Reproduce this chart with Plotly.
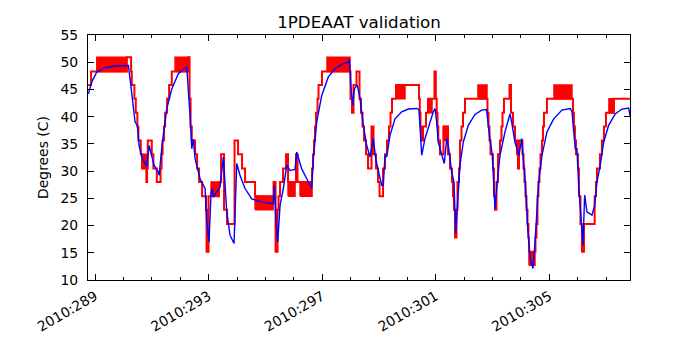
import plotly.graph_objects as go

# ---- Data (day of year 2010, degrees C) ----
model_day = [288.764, 288.884, 289.060, 289.352, 289.704, 290.173, 290.257, 290.349, 290.408, 290.489,
             290.549, 290.644, 290.820, 290.901, 290.996, 291.077, 291.229, 291.254, 291.370, 291.525,
             291.701, 291.933, 292.169, 292.229, 292.345, 292.405, 292.461, 292.521, 292.697, 292.873,
             292.933, 293.014, 293.085, 293.130, 293.165, 293.401, 293.518, 293.637, 293.754, 293.894,
             293.989, 294.106, 294.282, 294.518, 294.870, 295.278, 295.313, 295.373, 295.433, 295.514,
             295.630, 295.750, 295.866, 296.042, 296.102, 296.278, 296.454, 296.630, 296.687, 296.806,
             296.982, 297.215, 297.451, 297.687, 297.919, 297.954, 298.004, 298.074, 298.130, 298.236,
             298.331, 298.447, 298.567, 298.683, 298.799, 298.884, 299.000, 299.095, 299.151, 299.211,
             299.271, 299.387, 299.563, 299.799, 300.032, 300.338, 300.408, 300.504, 300.620, 300.796,
             300.912, 300.972, 301.032, 301.088, 301.208, 301.299, 301.384, 301.440, 301.560, 301.641,
             301.701, 301.771, 301.852, 301.968, 302.144, 302.380, 302.616, 302.792, 302.873, 302.989,
             303.085, 303.144, 303.261, 303.437, 303.613, 303.673, 303.789, 303.930, 304.025, 304.151,
             304.246, 304.327, 304.423, 304.504, 304.623, 304.739, 304.915, 305.151, 305.444, 305.736,
             305.796, 305.912, 305.972, 306.032, 306.183, 306.243, 306.324, 306.500, 306.595, 306.676,
             306.792, 306.912, 307.088, 307.320, 307.556, 307.792, 307.849]
model_temp = [44.2, 46.4, 48.2, 49.0, 49.3, 49.4, 45.8, 41.5, 39.0, 38.4,
              34.7, 32.6, 30.75, 34.7, 32.9, 31.1, 29.8, 29.2, 35.3, 41.5,
              45.1, 47.9, 49.0, 49.1, 40.2, 34.1, 35.9, 32.3, 28.6, 26.8,
              20.7, 17.0, 26.2, 26.8, 25.2, 27.1, 32.6, 22.5, 18.2, 16.7,
              31.4, 29.2, 26.8, 24.9, 24.3, 24.0, 27.4, 20.7, 17.0, 23.7,
              26.8, 31.1, 30.1, 30.3, 33.5, 30.4, 28.6, 26.8, 32.3, 39.0,
              43.9, 47.3, 48.8, 49.6, 50.0, 50.6, 45.8, 42.1, 45.1, 45.8,
              43.3, 38.4, 34.7, 32.6, 36.0, 32.3, 29.5, 27.4, 27.4, 32.9,
              32.6, 36.6, 39.6, 40.9, 41.4, 41.5, 41.3, 32.9, 36.0, 39.0,
              40.9, 41.5, 39.0, 35.3, 32.9, 31.4, 36.0, 34.7, 29.8, 28.0,
              18.5, 23.7, 31.1, 35.3, 38.4, 40.4, 41.2, 41.3, 37.2, 32.9,
              23.1, 26.8, 32.9, 37.2, 40.5, 39.0, 35.3, 32.9, 36.0, 28.0,
              18.8, 13.9, 12.1, 17.6, 28.0, 32.9, 37.2, 39.6, 41.2, 41.5,
              40.9, 34.1, 34.1, 27.4, 16.4, 25.6, 22.5, 21.9, 23.7, 28.0,
              31.1, 35.3, 38.4, 40.5, 41.4, 41.6, 40.0]

telem_day = [288.754, 288.859, 290.116, 290.268, 290.292, 290.384, 290.433, 290.489, 290.525, 290.609,
             290.655, 290.806, 290.831, 290.856, 290.996, 291.053, 291.173, 291.306, 291.342, 291.377,
             291.430, 291.465, 291.535, 291.606, 291.701, 292.285, 292.327, 292.363, 292.405, 292.521,
             292.592, 292.662, 292.768, 292.908, 292.926, 292.996, 293.366, 293.437, 293.542, 293.648,
             293.912, 294.035, 294.176, 294.282, 294.634, 295.285, 295.356, 295.426, 295.461, 295.514,
             295.620, 295.725, 295.796, 296.077, 296.130, 296.641, 296.676, 296.711, 296.746, 296.782,
             296.835, 296.870, 296.993, 297.996, 298.049, 298.102, 298.208, 298.313, 298.366, 298.419,
             298.472, 298.542, 298.613, 298.736, 298.806, 298.894, 298.965, 299.018, 299.141, 299.211,
             299.282, 299.352, 299.405, 299.458, 299.599, 300.408, 300.437, 300.461, 300.486, 300.549,
             300.655, 300.725, 300.954, 301.000, 301.032, 301.060, 301.088, 301.148, 301.271, 301.430,
             301.500, 301.570, 301.606, 301.641, 301.676, 301.729, 301.764, 301.817, 301.852, 301.905,
             301.958, 302.028, 302.820, 302.856, 302.891, 302.926, 303.014, 303.049, 303.085, 303.137,
             303.190, 303.261, 303.313, 303.349, 303.401, 303.595, 303.648, 303.718, 303.789, 303.859,
             303.894, 303.930, 304.053, 304.088, 304.123, 304.158, 304.194, 304.229, 304.264, 304.282,
             304.511, 304.546, 304.581, 304.616, 304.651, 304.687, 304.739, 304.775, 304.810, 304.915,
             305.831, 305.866, 305.901, 305.937, 306.007, 306.042, 306.095, 306.148, 306.218, 306.595,
             306.641, 306.676, 306.782, 306.852, 306.923, 306.993, 307.275, 307.900]
telem_temp = [45.8, 48.3, 50.9, 48.3, 45.8, 43.3, 40.7, 38.2, 35.6, 33.1,
              30.5, 28.0, 30.5, 35.6, 33.1, 30.5, 28.0, 30.5, 33.1, 35.6,
              38.2, 40.7, 43.3, 45.8, 48.3, 50.9, 43.3, 38.2, 35.6, 33.1,
              30.5, 28.0, 25.4, 22.9, 15.2, 25.4, 28.0, 33.1, 22.9, 20.3,
              35.6, 33.1, 30.5, 28.0, 25.4, 28.0, 15.2, 22.9, 25.4, 28.0,
              30.5, 33.1, 28.0, 33.1, 28.0, 30.5, 33.1, 35.6, 38.2, 40.7,
              43.3, 45.8, 48.3, 43.3, 40.7, 45.8, 48.3, 43.3, 40.7, 38.2,
              35.6, 33.1, 30.5, 38.2, 33.1, 30.5, 28.0, 25.4, 30.5, 33.1,
              35.6, 38.2, 40.7, 43.3, 45.8, 43.3, 40.7, 38.2, 35.6, 38.2,
              40.7, 43.3, 48.3, 43.3, 40.7, 38.2, 35.6, 33.1, 38.2, 33.1,
              30.5, 28.0, 25.4, 22.9, 17.8, 22.9, 28.0, 30.5, 35.6, 38.2,
              40.7, 43.3, 40.7, 38.2, 35.6, 33.1, 30.5, 25.4, 22.9, 28.0,
              33.1, 35.6, 38.2, 40.7, 43.3, 45.8, 40.7, 38.2, 35.6, 33.1,
              30.5, 35.6, 33.1, 30.5, 28.0, 25.4, 22.9, 20.3, 17.8, 15.2,
              17.8, 20.3, 25.4, 28.0, 30.5, 33.1, 35.6, 38.2, 40.7, 43.3,
              40.7, 38.2, 35.6, 33.1, 30.5, 25.4, 20.3, 15.2, 20.3, 25.4,
              28.0, 30.5, 33.1, 35.6, 38.2, 40.7, 43.3, 43.3]

# intervals where telemetry toggles rapidly between two adjacent levels
toggle_start = [289.060, 290.655, 291.817, 293.085, 294.634, 295.796, 296.218, 297.169,
                299.634, 300.725, 301.271, 302.486, 304.282, 305.162, 307.099]
toggle_end = [290.116, 290.806, 292.285, 293.366, 295.268, 296.042, 296.641, 297.979,
              299.915, 300.866, 301.430, 302.803, 304.493, 305.796, 307.275]
toggle_low = [48.3, 30.5, 48.3, 25.4, 22.9, 25.4, 25.4, 48.3,
              43.3, 40.7, 35.6, 43.3, 12.7, 43.3, 40.7]
toggle_high = [50.9, 33.1, 50.9, 28.0, 25.4, 28.0, 28.0, 50.9,
               45.8, 43.3, 38.2, 45.8, 15.2, 45.8, 43.3]

major_days = [289, 293, 297, 301, 305]

# ---- Build figure ----
bx, by = [], []
for s, e, lo, hi in zip(toggle_start, toggle_end, toggle_low, toggle_high):
    bx += [s, e, e, s, s, None]
    by += [lo, lo, hi, hi, lo, None]

fig = go.Figure()
fig.add_trace(go.Scatter(x=bx, y=by, mode="lines", fill="toself", fillcolor="#ff0000",
                         line=dict(color="#ff0000", width=1.5), hoverinfo="skip"))
fig.add_trace(go.Scatter(x=telem_day, y=telem_temp, mode="lines", line_shape="hv",
                         line=dict(color="#ff0000", width=2)))
fig.add_trace(go.Scatter(x=model_day, y=model_temp, mode="lines",
                         line=dict(color="#0000ff", width=1.4)))

font = "DejaVu Sans, Liberation Sans, sans-serif"
fig.update_layout(
    width=700, height=350,
    margin=dict(l=88, r=70, t=35, b=70),
    paper_bgcolor="white", plot_bgcolor="white",
    showlegend=False,
    font=dict(family=font, size=13.9, color="black"),
    title=dict(text="1PDEAAT validation", x=0.5, xanchor="center", xref="paper",
               y=1 - 22 / 350, yref="container", yanchor="middle",
               font=dict(size=16.7, color="black", family=font)),
)
fig.update_xaxes(
    range=[288.75, 307.84], showgrid=False, zeroline=False,
    showline=True, linecolor="black", linewidth=1, mirror="allticks",
    ticks="inside", ticklen=6, tickcolor="black", tickwidth=1,
    tickmode="array", tickvals=major_days, ticktext=["2010:%d" % d for d in major_days],
    tickangle=-30, ticklabelstandoff=2,
    minor=dict(ticks="inside", ticklen=3, tickcolor="black", dtick=1, tick0=289, showgrid=False),
)
fig.update_yaxes(
    range=[10, 55], showgrid=False, zeroline=False,
    showline=True, linecolor="black", linewidth=1, mirror="allticks",
    ticks="inside", ticklen=6, tickcolor="black", tickwidth=1,
    tickmode="linear", tick0=10, dtick=5, ticklabelstandoff=6,
    title=dict(text="Degrees (C)", standoff=8, font=dict(size=13.9)),
)

fig.write_html("out.html")
